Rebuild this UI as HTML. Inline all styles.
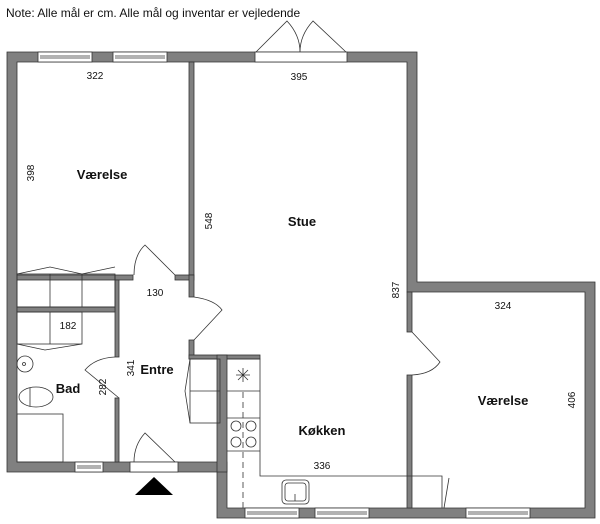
<!DOCTYPE html>
<html><head><style>
body{margin:0;background:#fff}
svg{display:block}
text{font-family:"Liberation Sans",sans-serif;fill:#111}
.d{font-size:10px}
.l{font-size:13px;font-weight:bold}
</style></head><body>
<svg width="600" height="524" viewBox="0 0 600 524" xmlns="http://www.w3.org/2000/svg">
<text x="6" y="17" style="font-size:12px">Note: Alle mål er cm. Alle mål og inventar er vejledende</text>
<g fill="#808080" stroke="#333" stroke-width="0.8">
<path d="M7 52 H417 V282 H595 V518 H217 V472 H7 Z M17 62 V462 H227 V508 H585 V292 H407 V62 Z" fill-rule="evenodd"/>
<rect x="189" y="62" width="5" height="213"/>
<rect x="17" y="275" width="98" height="5"/>
<rect x="115" y="275" width="18" height="5"/>
<rect x="175" y="275" width="19" height="5"/>
<rect x="189" y="275" width="5" height="22"/>
<rect x="189" y="340" width="5" height="19"/>
<rect x="189" y="355" width="71" height="4"/>
<rect x="217" y="355" width="10" height="117"/>
<rect x="115" y="280" width="4" height="77"/>
<rect x="115" y="398" width="4" height="64"/>
<rect x="17" y="307" width="98" height="5"/>
<rect x="407" y="292" width="5" height="40"/>
<rect x="407" y="375" width="5" height="133"/>
</g>
<g fill="#fff" stroke="#333" stroke-width="0.8">
<rect x="38" y="52" width="54" height="10"/><line x1="40" y1="56" x2="90" y2="56"/><line x1="40" y1="58" x2="90" y2="58"/>
<rect x="113" y="52" width="54" height="10"/><line x1="115" y1="56" x2="165" y2="56"/><line x1="115" y1="58" x2="165" y2="58"/>
<rect x="255" y="52" width="92" height="10"/>
<rect x="75" y="462" width="28" height="10"/><line x1="77" y1="466" x2="101" y2="466"/><line x1="77" y1="468" x2="101" y2="468"/>
<rect x="130" y="462" width="48" height="10"/>
<rect x="245" y="508" width="54" height="10"/><line x1="247" y1="512" x2="297" y2="512"/><line x1="247" y1="514" x2="297" y2="514"/>
<rect x="315" y="508" width="54" height="10"/><line x1="317" y1="512" x2="367" y2="512"/><line x1="317" y1="514" x2="367" y2="514"/>
<rect x="466" y="508" width="64" height="10"/><line x1="468" y1="512" x2="528" y2="512"/><line x1="468" y1="514" x2="528" y2="514"/>
</g>
<g fill="none" stroke="#333" stroke-width="0.8">
<path d="M256 52 L287 21 Q300 35 300 52 M300 52 Q300 35 313 21 L346 52"/>
<path d="M175 275 L145 245 Q134 255 134 275"/>
<path d="M194 297 Q215 300 222 310 L194 340"/>
<path d="M119 398 L85 370 Q95 358 115 357"/>
<path d="M134 462 Q134 445 145 433 L175 462"/>
<path d="M412 332 L440 362 Q432 374 412 375"/>
<path d="M449 478 L444 508"/>
</g>
<polygon points="135,495 154,477 173,495" fill="#000"/>
<g fill="none" stroke="#333" stroke-width="0.8">
<rect x="17" y="274" width="98" height="33"/>
<line x1="50" y1="274" x2="50" y2="307"/><line x1="82" y1="274" x2="82" y2="307"/>
<path d="M17 274 L50 267 L82 274 L115 267"/>
<rect x="17" y="312" width="65" height="32"/>
<line x1="50" y1="312" x2="50" y2="344"/>
<path d="M17 344 L45 350 L82 344"/>
<circle cx="25" cy="364" r="8"/><circle cx="24" cy="364" r="1.5"/>
<ellipse cx="36" cy="397" rx="17" ry="10"/><line x1="30" y1="388" x2="30" y2="406"/>
<rect x="17" y="414" width="46" height="48"/>
<rect x="190" y="359" width="30" height="64"/><line x1="190" y1="391" x2="220" y2="391"/>
<path d="M190 359 L185 391 L190 423"/>
<path d="M227 359 H260 V476 H442 V508"/>
<line x1="227" y1="391" x2="260" y2="391"/>
<line x1="227" y1="418" x2="260" y2="418"/>
<line x1="227" y1="451" x2="260" y2="451"/>
<line x1="243" y1="392" x2="243" y2="508" stroke-dasharray="6,4"/>
<path d="M236 375 H250 M243 368 V382 M238 370 L248 380 M248 370 L238 380"/>
<circle cx="236" cy="426" r="5"/><circle cx="251" cy="426" r="5"/>
<circle cx="236" cy="442" r="5"/><circle cx="251" cy="442" r="5"/>
<rect x="282" y="480" width="27" height="24" rx="4"/>
<rect x="285" y="483" width="21" height="18" rx="3"/>
<line x1="295" y1="494" x2="295" y2="501"/>
</g>
<g class="d" text-anchor="middle">
<text x="95" y="79">322</text>
<text x="299" y="80">395</text>
<text x="155" y="296">130</text>
<text x="68" y="329">182</text>
<text x="322" y="469">336</text>
<text x="503" y="309">324</text>
<text transform="translate(34,173) rotate(-90)">398</text>
<text transform="translate(212,221) rotate(-90)">548</text>
<text transform="translate(399,290) rotate(-90)">837</text>
<text transform="translate(134,368) rotate(-90)">341</text>
<text transform="translate(106,387) rotate(-90)">282</text>
<text transform="translate(575,400) rotate(-90)">406</text>
</g>
<g class="l" text-anchor="middle">
<text x="102" y="179">Værelse</text>
<text x="302" y="226">Stue</text>
<text x="157" y="374">Entre</text>
<text x="68" y="393">Bad</text>
<text x="322" y="435">Køkken</text>
<text x="503" y="405">Værelse</text>
</g>
</svg>
</body></html>
